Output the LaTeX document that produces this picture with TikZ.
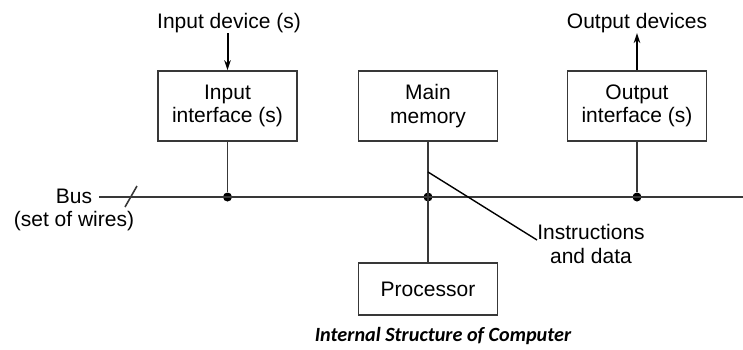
\documentclass[tikz,border=0pt]{standalone}
\usepackage{fontspec}
\setmainfont{Liberation Sans}
\newfontfamily\capfont{Carlito}
\usetikzlibrary{arrows.meta}
\definecolor{ln}{HTML}{383838}
\tikzset{
  unitbox/.style={draw=ln, line width=1.6pt, minimum width=139pt, minimum height=70pt, inner sep=0pt, align=center, font=\fontsize{21}{23.5}\selectfont},
  lbl/.style={inner sep=0pt, align=center, font=\fontsize{21}{23.5}\selectfont},
  wire/.style={draw=ln, line width=1.6pt},
  arr/.style={draw=black, line width=2pt, -{Stealth[length=10pt,width=6.5pt]}},
  junction/.style={circle, fill=black, inner sep=0pt, minimum size=9pt}
}
\begin{document}
\begin{tikzpicture}[x=1pt,y=-1pt]
\useasboundingbox (0,0) rectangle (743,349);
\node[unitbox] (inif) at (227.5,106) {Input\\interface (s)};
\node[unitbox] (mem) at (428,106) {Main\\memory};
\node[unitbox] (outif) at (637,106) {Output\\interface (s)};
\node[unitbox, minimum height=52pt] (proc) at (428,289) {Processor};
\node[lbl, anchor=base] (indev) at (229,28) {Input device (s)};
\node[lbl, anchor=base] (outdev) at (637,28) {Output devices};
\node[lbl] (bus) at (74,210) {Bus\\(set of wires)};
\node[lbl] (instr) at (591,244) {Instructions\\and data};
\node[anchor=base, inner sep=0pt, font=\capfont\bfseries\itshape\fontsize{20.2}{22}\selectfont] (cap) at (443,341) {Internal Structure of Computer};
\coordinate (busL) at (99,197);
\coordinate (busR) at (743,197);
\node[junction] (j1) at (227.5,197) {};
\node[junction] (j2) at (428,197) {};
\node[junction] (j3) at (637,197) {};
\coordinate (sl1) at (125,207);
\coordinate (sl2) at (137,186);
\coordinate (tap) at (428,172);
\coordinate (instrEnd) at (537,240);
\coordinate (inTop) at (227.5,33);
\coordinate (outTop) at (637,33);
\draw[wire] (busL) -- (busR);
\draw[wire] (sl1) -- (sl2);
\draw[wire] (inif.south) -- (j1);
\draw[wire] (mem.south) -- (proc.north);
\draw[wire] (outif.south) -- (j3);
\draw[line width=1.4pt, draw=black] (tap) -- (instrEnd);
\draw[arr] (inTop) -- (inif.north);
\draw[arr] (outif.north) -- (outTop);
\end{tikzpicture}
\end{document}
